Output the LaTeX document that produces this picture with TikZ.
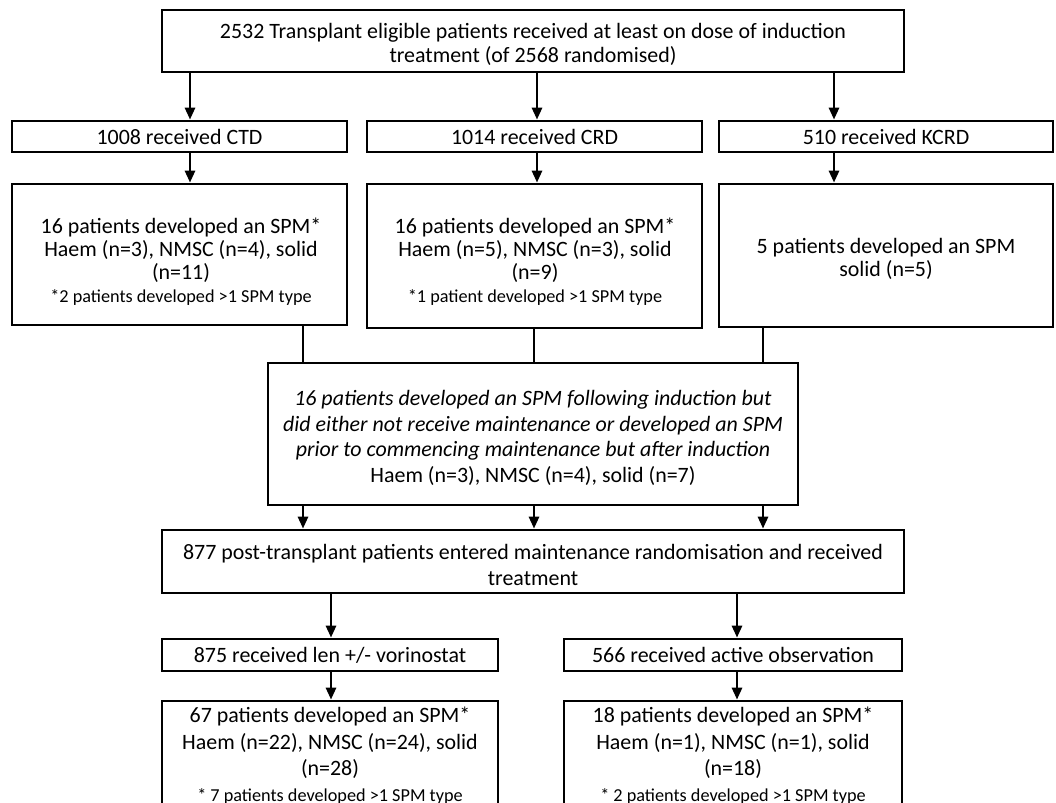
\documentclass[tikz,border=0pt]{standalone}
\usepackage{fontspec}
\setmainfont{Carlito}
\usetikzlibrary{arrows.meta}
\begin{document}
\begin{tikzpicture}[x=1bp,y=-1bp,
  box/.style={draw, line width=2.7bp, inner sep=0pt, align=center, font=\fontsize{22}{24.5}\selectfont},
  txt/.style={inner sep=0pt, align=center, font=\fontsize{22}{23}\selectfont},
  fn/.style={font=\fontsize{18.3}{22}\selectfont},
  arr/.style={line width=2.7bp, -{Triangle[length=12bp,width=10bp]}},
  ln/.style={line width=2.7bp}]
\clip (0,0) rectangle (1056,803);
% boxes
\node[box, minimum width=742bp, minimum height=62bp] (top) at (533,41) {};
\node[txt, font=\fontsize{22}{24}\selectfont] (topt) at (533,44.5)
  {2532 Transplant eligible patients received at least on dose of induction\\treatment (of 2568 randomised)};
\node[box, minimum width=335bp, minimum height=31bp] (ctd) at (179.5,136.5) {1008 received CTD};
\node[box, minimum width=335bp, minimum height=31bp] (crd) at (534.5,136.5) {1014 received CRD};
\node[box, minimum width=334bp, minimum height=31bp] (kcrd) at (886,136.5) {510 received KCRD};
\node[box, minimum width=335bp, minimum height=141bp] (ctdb) at (179.5,254.5) {};
\node[box, minimum width=335bp, minimum height=144bp] (crdb) at (534.5,256) {};
\node[box, minimum width=334bp, minimum height=143bp] (kcrdb) at (886,255.5) {};
\node[txt] (ctdt) at (181,262) {16 patients developed an SPM*\\Haem (n=3), NMSC (n=4), solid\\(n=11)\\{\fontsize{18.3}{22}\selectfont *2 patients developed >1 SPM type}};
\node[txt] (crdt) at (535,262) {16 patients developed an SPM*\\Haem (n=5), NMSC (n=3), solid\\(n=9)\\{\fontsize{18.3}{22}\selectfont *1 patient developed >1 SPM type}};
\node[txt] (kcrdt) at (886,259) {5 patients developed an SPM\\solid (n=5)};
\node[box, minimum width=530bp, minimum height=142bp] (mid) at (533,434) {};
\node[txt, font=\fontsize{22}{25.5}\selectfont] (midt) at (533,438)
  {\textit{16 patients developed an SPM following induction but}\\
   \textit{did either not receive maintenance or developed an SPM}\\
   \textit{prior to commencing maintenance but after induction}\\
   Haem (n=3), NMSC (n=4), solid (n=7)};
\node[box, minimum width=742bp, minimum height=63bp] (maint) at (533,561.5) {};
\node[txt, font=\fontsize{22}{26}\selectfont] (maintt) at (533,565)
  {877 post-transplant patients entered maintenance randomisation and received\\treatment};
\node[box, minimum width=336bp, minimum height=32bp] (len) at (330,655) {875 received len +/- vorinostat};
\node[box, minimum width=338bp, minimum height=32bp] (obs) at (733,655) {566 received active observation};
\node[box, minimum width=336bp, minimum height=110bp, font=\fontsize{22}{26.5}\selectfont] (len6) at (330,756)
  {67 patients developed an SPM*\\Haem (n=22), NMSC (n=24), solid\\(n=28)\\{\fontsize{18.3}{23}\selectfont * 7 patients developed >1 SPM type}};
\node[box, minimum width=338bp, minimum height=110bp, font=\fontsize{22}{26.5}\selectfont] (obs6) at (733,756)
  {18 patients developed an SPM*\\Haem (n=1), NMSC (n=1), solid\\(n=18)\\{\fontsize{18.3}{23}\selectfont * 2 patients developed >1 SPM type}};
% connector x positions
\coordinate (a1) at (190,0);
\coordinate (a2) at (537,0);
\coordinate (a3) at (834,0);
\coordinate (b1) at (303,0);
\coordinate (b2) at (534,0);
\coordinate (b3) at (763,0);
\coordinate (d1) at (331,0);
\coordinate (d2) at (737,0);
% connectors
\draw[arr] (top.south -| a1) -- (ctd.north -| a1);
\draw[arr] (top.south -| a2) -- (crd.north -| a2);
\draw[arr] (top.south -| a3) -- (kcrd.north -| a3);
\draw[arr] (ctd.south -| a1) -- (ctdb.north -| a1);
\draw[arr] (crd.south -| a2) -- (crdb.north -| a2);
\draw[arr] (kcrd.south -| a3) -- (kcrdb.north -| a3);
\draw[ln] (ctdb.south -| b1) -- (mid.north -| b1);
\draw[ln] (crdb.south -| b2) -- (mid.north -| b2);
\draw[ln] (kcrdb.south -| b3) -- (mid.north -| b3);
\draw[arr] (mid.south -| b1) -- (maint.north -| b1);
\draw[arr] (mid.south -| b2) -- (maint.north -| b2);
\draw[arr] (mid.south -| b3) -- (maint.north -| b3);
\draw[arr] (maint.south -| d1) -- (len.north -| d1);
\draw[arr] (maint.south -| d2) -- (obs.north -| d2);
\draw[arr] (len.south -| d1) -- (len6.north -| d1);
\draw[arr] (obs.south -| d2) -- (obs6.north -| d2);
\end{tikzpicture}
\end{document}
